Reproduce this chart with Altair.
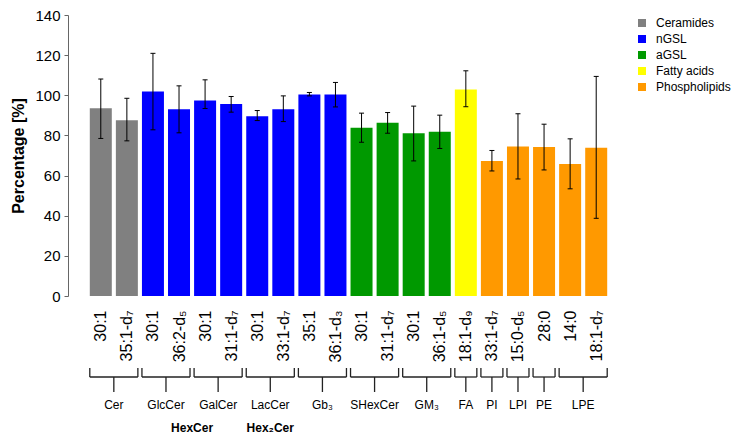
import json
import altair as alt
import pandas as pd

# ---- data ----
labels = ["30:1", "35:1-d₇", "30:1", "36:2-d₅", "30:1", "31:1-d₇", "30:1", "33:1-d₇",
          "35:1", "36:1-d₃", "30:1", "31:1-d₇", "30:1", "36:1-d₅", "18:1-d₉", "33:1-d₇",
          "15:0-d₅", "28:0", "14:0", "18:1-d₇"]
classes = (["Ceramides"] * 2 + ["nGSL"] * 8 + ["aGSL"] * 4 + ["Fatty acids"]
           + ["Phospholipids"] * 5)
values = [93.5, 87.6, 101.9, 93.1, 97.4, 95.7, 89.6, 93.1, 100.4, 100.4,
          83.8, 86.3, 81.1, 81.8, 102.9, 67.3, 74.5, 74.2, 65.8, 73.8]
err_hi = [108.1, 98.5, 120.9, 104.7, 107.7, 99.4, 92.4, 99.7, 101.4, 106.4,
          91.1, 91.4, 94.6, 90.1, 112.2, 72.5, 90.8, 85.6, 78.3, 109.4]
err_lo = [78.5, 77.3, 82.8, 81.3, 93.4, 91.6, 87.4, 86.9, 99.7, 94.2,
          76.6, 81.1, 67.3, 73.5, 94.3, 62.3, 58.3, 62.8, 53.4, 38.7]

group_names = ["Cer", "GlcCer", "GalCer", "LacCer", "Gb₃", "SHexCer", "GM₃",
               "FA", "PI", "LPI", "PE", "LPE"]
group_first = [0, 2, 4, 6, 8, 10, 12, 14, 15, 16, 17, 18]
group_last = [1, 3, 5, 7, 9, 11, 13, 14, 15, 16, 17, 19]

super_names = ["HexCer", "Hex₂Cer"]
super_first = [2, 6]
super_last = [5, 7]

class_order = ["Ceramides", "nGSL", "aGSL", "Fatty acids", "Phospholipids"]
class_colors = ["#808080", "#0000FF", "#009900", "#FFFF00", "#FF9900"]

# ---- tables ----
df = pd.DataFrame({"i": list(range(len(labels))), "label": labels, "cls": classes,
                   "value": values, "lo": err_lo, "hi": err_hi})
gdf = pd.DataFrame({"name": group_names, "first": group_first, "last": group_last})
gdf["mid"] = (gdf["first"] + gdf["last"]) / 2
sdf = pd.DataFrame({"name": super_names, "first": super_first, "last": super_last})
sdf["mid"] = (sdf["first"] + sdf["last"]) / 2

FONT = "Liberation Sans"
xscale = alt.Scale(domain=[-1.066, len(labels) - 1 + 1.066], nice=False, zero=False)
label_expr = json.dumps(labels, ensure_ascii=False) + "[datum.value]"
xaxis = alt.Axis(values=list(range(len(labels))), labelExpr=label_expr, labelAngle=-90,
                 labelFontSize=16, labelPadding=14, ticks=False, domain=False, grid=False,
                 labelOverlap=False, labelFlush=False, labelBound=False, title=None,
                 labelColor="#000000", labelFont=FONT)
yscale = alt.Scale(domain=[0, 140], nice=False)
yaxis = alt.Axis(values=list(range(0, 141, 20)), grid=False, tickSize=4, labelPadding=4,
                 labelFontSize=15, labelColor="#000000", domainColor="#666666",
                 tickColor="#666666", title="Percentage [%]", titleFontSize=16,
                 titleFontWeight="bold", titleColor="#000000", titlePadding=8,
                 labelFont=FONT, titleFont=FONT)


def X(f):
    return alt.X(f, type="quantitative", scale=xscale, axis=xaxis)


def Y(f):
    return alt.Y(f, type="quantitative", scale=yscale, axis=yaxis)


bars = alt.Chart(df).mark_bar(size=22).encode(
    x=X("i"),
    y=Y("value"),
    color=alt.Color("cls:N", scale=alt.Scale(domain=class_order, range=class_colors),
                    title=None,
                    legend=alt.Legend(orient="none", legendX=568, legendY=2,
                                      symbolType="square", symbolSize=64,
                                      symbolStrokeWidth=0, labelFontSize=12,
                                      labelOffset=8, rowPadding=4, padding=0,
                                      labelLimit=200,
                                      labelFont=FONT, labelColor="#000000")),
)

err = alt.Chart(df).mark_rule(color="#000000", strokeWidth=1).encode(
    x=X("i"), y=Y("lo"), y2="hi")
cap_hi = alt.Chart(df).mark_rule(color="#000000", strokeWidth=1, xOffset=-2.5,
                                 x2Offset=2.5).encode(x=X("i"), x2="i", y=Y("hi"))
cap_lo = alt.Chart(df).mark_rule(color="#000000", strokeWidth=1, xOffset=-2.5,
                                 x2Offset=2.5).encode(x=X("i"), x2="i", y=Y("lo"))

BR = "#222222"
brace_h = alt.Chart(gdf).mark_rule(color=BR, strokeWidth=1.3, xOffset=-11,
                                   x2Offset=11).encode(
    x=X("first"), x2="last", y=alt.value(362))
brace_l = alt.Chart(gdf).mark_rule(color=BR, strokeWidth=1.3, xOffset=-11).encode(
    x=X("first"), y=alt.value(353), y2=alt.value(362))
brace_r = alt.Chart(gdf).mark_rule(color=BR, strokeWidth=1.3, xOffset=11).encode(
    x=X("last"), y=alt.value(353), y2=alt.value(362))
brace_s = alt.Chart(gdf).mark_rule(color=BR, strokeWidth=1.3).encode(
    x=X("mid"), y=alt.value(362), y2=alt.value(377))
glabels = alt.Chart(gdf).mark_text(fontSize=12, baseline="middle", font=FONT,
                                   color="#000000").encode(
    x=X("mid"), y=alt.value(390), text="name:N")
slabels = alt.Chart(sdf).mark_text(fontSize=12, baseline="middle", fontWeight="bold",
                                   font=FONT, color="#000000").encode(
    x=X("mid"), y=alt.value(413), text="name:N")

chart = alt.layer(
    bars, err, cap_hi, cap_lo, brace_h, brace_l, brace_r, brace_s, glabels, slabels
).properties(
    width=561, height=281,
    autosize=alt.AutoSizeParams(type="none"),
    padding={"left": 60, "top": 7, "right": 103, "bottom": 138},
).configure(font=FONT).configure_view(stroke=None)

chart.save("out.html", embed_options={"renderer": "svg", "actions": False})
